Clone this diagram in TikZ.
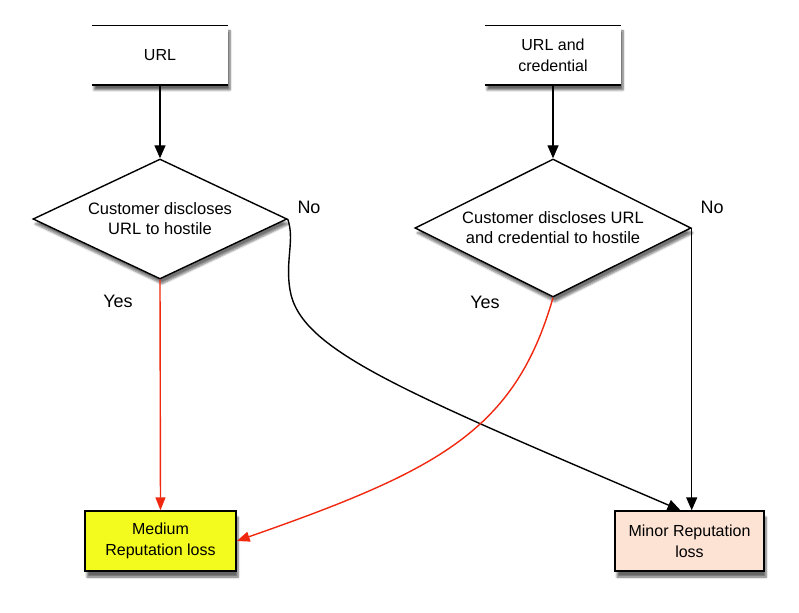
\documentclass[tikz,border=0pt]{standalone}
\usepackage{fontspec}
\setmainfont{Liberation Sans}
\usetikzlibrary{shapes.geometric,arrows.meta,shadows.blur}
\definecolor{medfill}{RGB}{242,250,30}
\definecolor{minfill}{RGB}{253,227,212}
\definecolor{redline}{RGB}{240,40,15}
\tikzset{
  topbox/.style={rectangle,fill=white,minimum width=136pt,minimum height=59pt,inner sep=0pt,align=center,
    font=\fontsize{16}{21}\selectfont,
    blur shadow={shadow xshift=2pt,shadow yshift=-5pt,shadow blur steps=6,shadow opacity=60}},
  decision/.style={diamond,draw=black,line width=1.4pt,fill=white,inner sep=0pt,align=center,
    font=\fontsize{16.5}{20}\selectfont,
    blur shadow={shadow xshift=2pt,shadow yshift=-5pt,shadow blur steps=6,shadow opacity=55}},
  outbox/.style={rectangle,draw=black,line width=1.4pt,minimum width=151pt,minimum height=60pt,inner sep=0pt,align=center,
    font=\fontsize{16}{21}\selectfont,
    blur shadow={shadow xshift=2pt,shadow yshift=-6pt,shadow blur steps=6,shadow opacity=60}},
  lbl/.style={font=\fontsize{18}{21}\selectfont,inner sep=0pt},
  flow/.style={line width=1.4pt,-{Triangle[length=13pt,width=11pt]}},
  redflow/.style={line width=1.4pt,draw=redline,-{Triangle[length=13pt,width=10pt]},redline},
}
\begin{document}
\begin{tikzpicture}[x=1pt,y=-1pt]
\useasboundingbox (0,0) rectangle (799,612);
% top boxes
\node[topbox] (url) at (160,55.5) {URL};
\node[topbox] (cred) at (553,55.5) {URL and\\credential};
\foreach \n in {url,cred}{
  \draw[line width=1.4pt] (\n.north west) -- (\n.north east);
  \draw[line width=1.4pt] (\n.south west) -- (\n.south east);
}
% decisions
\node[decision,aspect=2.117,minimum width=254pt,minimum height=120pt] (d1) at (160,219) {Customer discloses\\URL to hostile};
\node[decision,aspect=2,minimum width=276pt,minimum height=138pt] (d2) at (553,228) {Customer discloses URL\\and credential to hostile};
% outcomes
\node[outbox,fill=medfill] (med) at (160.5,541) {Medium\\Reputation loss};
\node[outbox,fill=minfill,minimum width=149pt] (minor) at (689.5,541) {Minor Reputation\\loss};
% labels
\node[lbl] (no1) at (309,207) {No};
\node[lbl] (yes1) at (118,301) {Yes};
\node[lbl] (yes2) at (485,302) {Yes};
\node[lbl] (no2) at (712,207) {No};
% connectors
\draw[flow] (url.south) -- (d1.north);
\draw[flow] (cred.south) -- (d2.north);
\draw[redflow] (d1.south) -- (med.north);
\draw[flow] (d1.east) .. controls (295,240) and (285,260) .. (290,290)
  .. controls (300,350) and (400,390) .. ([xshift=-9pt]minor.north);
\draw[flow] (d2.east) -- (d2.east |- minor.north);
\draw[redflow] (d2.south) .. controls (515,430) and (440,470) .. (med.east);
\end{tikzpicture}
\end{document}
